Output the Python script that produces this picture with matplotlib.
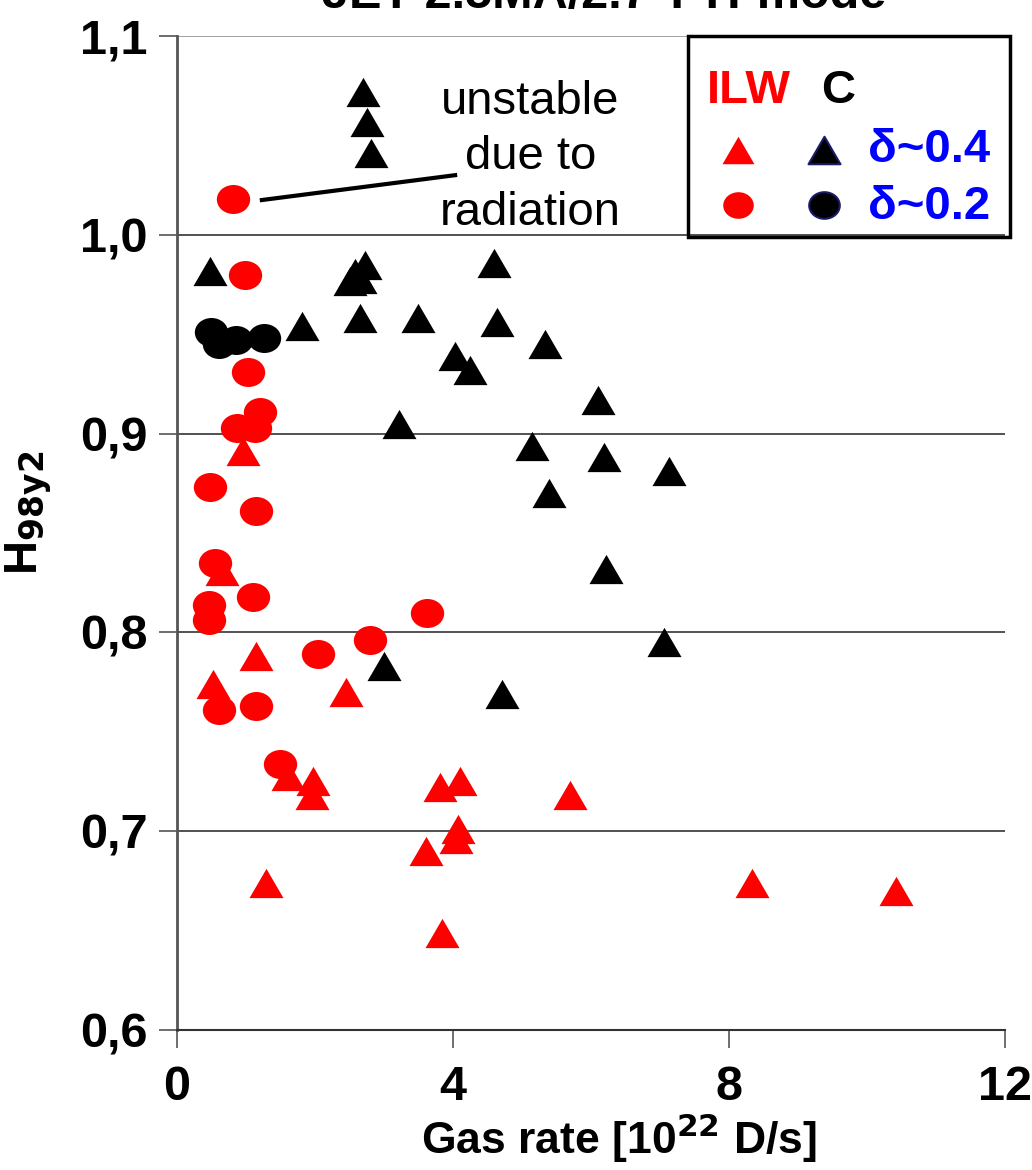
import numpy as np
import matplotlib
matplotlib.use("Agg")
import matplotlib.pyplot as plt
from matplotlib.path import Path
from matplotlib.patches import Rectangle

plt.rcParams['font.family'] = ['Liberation Sans', 'DejaVu Sans']

# ILW (red) data
ilw_tri_x = [0.96, 0.65, 1.14, 0.52, 2.45, 1.61, 1.97, 1.96, 3.81, 4.10,
             5.70, 4.07, 4.04, 3.61, 1.29, 8.33, 10.42, 3.84]
ilw_tri_y = [0.891, 0.831, 0.788, 0.774, 0.770, 0.728, 0.725, 0.718, 0.722, 0.725,
             0.718, 0.701, 0.696, 0.690, 0.674, 0.674, 0.670, 0.649]
ilw_circ_x = [0.81, 0.99, 1.03, 1.20, 0.87, 1.13, 0.48, 1.14, 0.55, 1.10,
              0.46, 0.46, 3.62, 2.80, 2.04, 0.61, 1.14, 1.49]
ilw_circ_y = [1.018, 0.980, 0.931, 0.911, 0.903, 0.903, 0.873, 0.861, 0.835, 0.818,
              0.814, 0.806, 0.810, 0.796, 0.789, 0.761, 0.763, 0.734]

# Carbon wall (black) data
c_tri_x = [2.70, 2.75, 2.81, 0.48, 1.81, 2.65, 2.58, 2.72, 2.51, 2.65,
           3.49, 4.59, 4.64, 4.03, 4.25, 5.33, 3.22, 6.10, 5.14, 6.19,
           7.13, 5.39, 6.22, 7.06, 3.00, 4.71]
c_tri_y = [1.072, 1.057, 1.041, 0.982, 0.954, 0.958, 0.981, 0.985, 0.977, 0.978,
           0.958, 0.986, 0.956, 0.939, 0.932, 0.945, 0.905, 0.917, 0.894, 0.888,
           0.881, 0.870, 0.832, 0.795, 0.783, 0.769]
c_circ_x = [0.49, 0.61, 0.86, 1.26]
c_circ_y = [0.951, 0.945, 0.947, 0.948]

# marker shapes: slightly flattened triangle and ellipse
tri = Path([(-1, -0.86), (1, -0.86), (0, 0.86), (-1, -0.86)],
           [Path.MOVETO, Path.LINETO, Path.LINETO, Path.CLOSEPOLY])
circ = Path.unit_circle()
ell = Path(circ.vertices * np.array([1.0, 0.87]), circ.codes)

fig = plt.figure(figsize=(10.32, 11.7), dpi=100)
ax = fig.add_axes([0.1715, 0.1197, 0.8025, 0.8495])

ax.plot(c_tri_x, c_tri_y, ls='none', marker=tri, ms=24.5, color='black', mew=0)
ax.plot(c_circ_x, c_circ_y, ls='none', marker=ell, ms=24, color='black', mew=0)
ax.plot(ilw_circ_x, ilw_circ_y, ls='none', marker=ell, ms=24, color='red', mew=0)
ax.plot(ilw_tri_x, ilw_tri_y, ls='none', marker=tri, ms=24.5, color='red', mew=0)

ax.set_xlim(0, 12)
ax.set_ylim(0.6, 1.1)
ax.set_xticks([0, 4, 8, 12])
ax.set_yticks([0.6, 0.7, 0.8, 0.9, 1.0, 1.1])
ax.set_yticklabels(['0,6', '0,7', '0,8', '0,9', '1,0', '1,1'])
ax.tick_params(axis='both', labelsize=35, length=13, width=1.2, color='#555555')
ax.tick_params(axis='y', pad=8)
ax.tick_params(axis='x', pad=12)
for lab in ax.get_xticklabels() + ax.get_yticklabels():
    lab.set_fontweight('bold')

ax.yaxis.grid(True, color='#222222', lw=1.1)
ax.get_ygridlines()[-1].set_color('#888888')
ax.set_axisbelow(True)
for s in ['top', 'right']:
    ax.spines[s].set_visible(False)
ax.spines['left'].set_color('#555555')
ax.spines['left'].set_linewidth(2)
ax.spines['bottom'].set_color('#333333')
ax.spines['bottom'].set_linewidth(1.5)

ax.set_xlabel('Gas rate [10$^{\\mathbf{22}}$ D/s]', fontsize=32, fontweight='bold')
ax.xaxis.set_label_coords(0.533, -0.082)
ax.set_ylabel('H$_{\\mathbf{98y2}}$', fontsize=34, fontweight='bold')
ax.yaxis.set_label_coords(-0.148, 0.52)

# annotation
ax.text(5.12, 1.039, 'unstable\ndue to\nradiation', fontsize=34, ha='center',
        va='center', linespacing=1.34)
ax.plot([1.23, 4.03], [1.0175, 1.030], color='black', lw=3)

# title (partly cut by the top edge, as in the source figure)
fig.text(0.585, 1 - 8 / 1170, 'JET 2.5MA/2.7 T H-mode', fontsize=35,
         fontweight='bold', ha='center', va='baseline')

# hand-made legend box
fig.patches.append(Rectangle((688 / 1032, 1 - 237 / 1170), 322 / 1032, 201 / 1170,
                             transform=fig.transFigure, fill=False, ec='black', lw=2.5))
fig.text(707 / 1032, 1 - 91 / 1170, 'ILW', color='red', fontsize=34,
         fontweight='bold', va='center')
fig.text(821 / 1032, 1 - 91 / 1170, 'C', color='black', fontsize=34,
         fontweight='bold', va='center')
fig.text(868 / 1032, 1 - 150 / 1170, '\u03b4~0.4', color='blue', fontsize=34,
         fontweight='bold', va='center')
fig.text(868 / 1032, 1 - 207 / 1170, '\u03b4~0.2', color='blue', fontsize=34,
         fontweight='bold', va='center')
lx = [738 / 1032, 824 / 1032]
ly = [1 - 150 / 1170, 1 - 205 / 1170]
fig.add_artist(plt.Line2D([lx[0]], [ly[0]], marker=tri, ms=23, color='red', mew=0,
                          transform=fig.transFigure))
fig.add_artist(plt.Line2D([lx[1]], [ly[0]], marker=tri, ms=23, color='black',
                          mec='#1a1a66', mew=1.5, transform=fig.transFigure))
fig.add_artist(plt.Line2D([lx[0]], [ly[1]], marker=ell, ms=22, color='red', mew=0,
                          transform=fig.transFigure))
fig.add_artist(plt.Line2D([lx[1]], [ly[1]], marker=ell, ms=22, color='black',
                          mec='#1a1a66', mew=1.5, transform=fig.transFigure))

fig.savefig('out.png', dpi=100)
